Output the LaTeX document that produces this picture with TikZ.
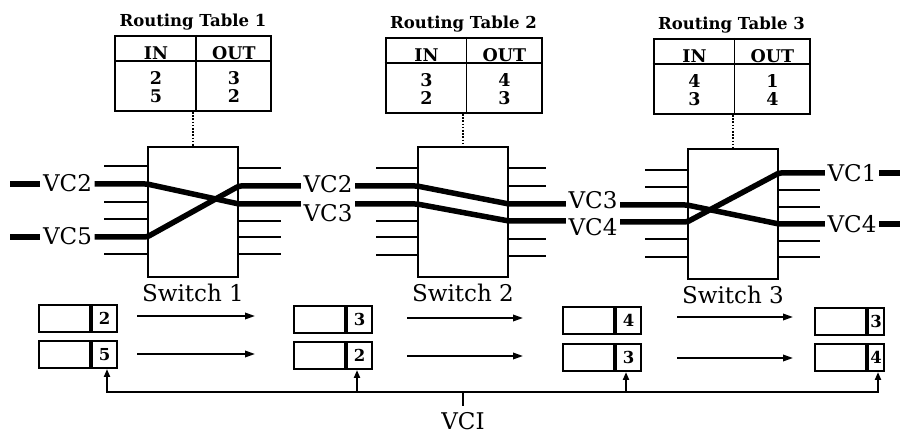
\documentclass[tikz,border=0pt]{standalone}
\usepackage{fontspec}
\setmainfont{DejaVu Serif}
\usetikzlibrary{arrows.meta}
\begin{document}
\begin{tikzpicture}[x=1pt,y=-1pt,
  stubln/.style={line width=1.6pt},
  vcln/.style={line width=5.5pt, line join=round, rounded corners=2pt},
  swbox/.style={draw, line width=2pt, minimum width=90pt, minimum height=130pt, inner sep=0pt},
  tblbox/.style={draw, line width=2pt, minimum width=156pt, minimum height=75pt, inner sep=0pt},
  tblln/.style={line width=1.6pt},
  dotln/.style={line width=1.6pt, dash pattern=on 1.6pt off 1.6pt},
  biglbl/.style={font=\fontsize{23}{26}\selectfont, inner sep=0pt},
  vclbl/.style={font=\fontsize{23}{26}\selectfont, inner ysep=0pt, inner xsep=2.5pt},
  ttl/.style={font=\bfseries\fontsize{16.5}{19}\selectfont, inner sep=0pt, anchor=base},
  tbltxt/.style={font=\bfseries\fontsize{17.5}{20}\selectfont, inner sep=0pt, anchor=base},
  cellbox/.style={draw, line width=2pt, minimum height=27pt, inner sep=0pt, anchor=north west},
  numtxt/.style={font=\bfseries\fontsize{16.5}{19}\selectfont},
  flowarr/.style={line width=1.8pt, -{Triangle[length=10pt,width=6.5pt]}},
  busln/.style={line width=2pt},
  bustip/.style={-{Triangle[length=8pt,width=6pt]}}
]
\useasboundingbox (0,0) rectangle (900,435);

% switches
\node[swbox] (s1) at (193,212) {};
\node[swbox] (s2) at (463,212.5) {};
\node[swbox] (s3) at (733,214) {};
\node[biglbl, anchor=base] (sl1) at (s1.south |- 0,302) {Switch 1};
\node[biglbl, anchor=base] (sl2) at (s2.south |- 0,302) {Switch 2};
\node[biglbl, anchor=base] (sl3) at (s3.south |- 0,304) {Switch 3};

% stubs
\foreach \y in {166,184,202,219,237,254} \draw[stubln] (s1.west |- 0,\y) -- ++(-43,0);
\foreach \y in {168,186,204,221,237,254} \draw[stubln] (s1.east |- 0,\y) -- ++(42,0);
\foreach \y in {168,186,203,221,237,255} \draw[stubln] (s2.west |- 0,\y) -- ++(-41,0);
\foreach \y in {168,186,204,221,239,256} \draw[stubln] (s2.east |- 0,\y) -- ++(37,0);
\foreach \y in {170,187,205,222,239,257} \draw[stubln] (s3.west |- 0,\y) -- ++(-42,0);
\foreach \y in {173,190,207,224,241,257} \draw[stubln] (s3.east |- 0,\y) -- ++(41,0);

% VC labels
\node[vclbl] (lA1) at (67.5,183) {VC2};
\node[vclbl] (lB1) at (67.5,236) {VC5};
\node[vclbl] (lB2) at (328,184) {VC2};
\node[vclbl] (lA2) at (328,213) {VC3};
\node[vclbl] (lB3) at (593,200) {VC3};
\node[vclbl] (lA3) at (593,227) {VC4};
\node[vclbl] (lA4) at (852,173) {VC1};
\node[vclbl] (lB4) at (852,224) {VC4};
\coordinate (inA) at (10,184);
\coordinate (inB) at (10,237);
\coordinate (outA) at (900,173);
\coordinate (outB) at (900,224);

% path A : VC2 -> VC3 -> VC4 -> VC1
\draw[vcln] (inA) -- (lA1.west |- inA);
\draw[vcln] (lA1.east |- 0,184) -- (s1.west |- 0,184) -- (s1.east |- 0,204) -- (lA2.west |- 0,204);
\draw[vcln] (lA2.east |- 0,204) -- (s2.west |- 0,204) -- (s2.east |- 0,221) -- (lA3.west |- 0,221);
\draw[vcln] (lA3.east |- 0,222) -- (s3.west |- 0,222) -- (s3.east |- 0,173) -- (lA4.west |- 0,173);
\draw[vcln] (lA4.east |- outA) -- (outA);
% path B : VC5 -> VC2 -> VC3 -> VC4
\draw[vcln] (inB) -- (lB1.west |- inB);
\draw[vcln] (lB1.east |- 0,237) -- (s1.west |- 0,237) -- (s1.east |- 0,186) -- (lB2.west |- 0,186);
\draw[vcln] (lB2.east |- 0,186) -- (s2.west |- 0,186) -- (s2.east |- 0,204) -- (lB3.west |- 0,204);
\draw[vcln] (lB3.east |- 0,205) -- (s3.west |- 0,205) -- (s3.east |- 0,224) -- (lB4.west |- 0,224);
\draw[vcln] (lB4.east |- outB) -- (outB);

% routing tables
\foreach \i/\cx/\ty/\a/\b/\c/\d in {1/193/36/2/3/5/2, 2/463.5/38/3/4/2/3, 3/731.5/39/4/1/3/4} {
  \node[tblbox] (t\i) at (\cx,{\ty+37.5}) {};
  \draw[tblln] ([yshift=-26pt]t\i.north west) -- ([yshift=-26pt]t\i.north east);
  \draw[tblln] ([xshift=82pt]t\i.north west) -- ([xshift=82pt]t\i.south west);
  \node[ttl] (tt\i) at (\cx,{\ty-9}) {Routing Table \i};
  \node[tbltxt] (tin\i) at ({\cx-37},{\ty+24}) {IN};
  \node[tbltxt] (tout\i) at ({\cx+41},{\ty+24}) {OUT};
  \node[tbltxt] (ta\i) at ({\cx-37},{\ty+49}) {\a};
  \node[tbltxt] (tb\i) at ({\cx+41},{\ty+49}) {\b};
  \node[tbltxt] (tc\i) at ({\cx-37},{\ty+67}) {\c};
  \node[tbltxt] (td\i) at ({\cx+41},{\ty+67}) {\d};
  \draw[dotln] (s\i.north |- t\i.south) -- (s\i.north);
}

% packets
\foreach \k/\L/\T/\wl/\wn/\n in {a1/38/304/51/25/2, a2/293/305/51/25/3, a3/562/306/51/25/4, a4/814/307/51/16/3,
                                 b1/38/340/51/25/5, b2/293/341/51/25/2, b3/562/343/51/25/3, b4/814/343/51/16/4} {
  \node[cellbox, minimum width=\wl pt] (p\k) at (\L,\T) {};
  \node[cellbox, minimum width=\wn pt, numtxt] (n\k) at (p\k.north east) {\n};
}

% flow arrows
\coordinate (f1s) at (137,316); \coordinate (f1e) at (255,316);
\coordinate (f2s) at (137,354); \coordinate (f2e) at (255,354);
\coordinate (f3s) at (407,318); \coordinate (f3e) at (523,318);
\coordinate (f4s) at (407,356); \coordinate (f4e) at (523,356);
\coordinate (f5s) at (677,317); \coordinate (f5e) at (793,317);
\coordinate (f6s) at (677,358); \coordinate (f6e) at (793,358);
\foreach \j in {1,...,6} \draw[flowarr] (f\j s) -- (f\j e);

% VCI bus
\node[biglbl, anchor=base] (vci) at (463,430) {VCI};
\coordinate (bl) at (107,392);
\coordinate (br) at (878,392);
\draw[busln, {Triangle[length=8pt,width=6pt]}-{Triangle[length=8pt,width=6pt]}]
  (nb1.south -| bl) -- (bl) -- (br) -- (nb4.south -| br);
\draw[busln, bustip] (357,392) -- (nb2.south -| 357,0);
\draw[busln, bustip] (626,392) -- (nb3.south -| 626,0);
\draw[busln] (vci.north |- 0,392) -- (vci.north |- 0,406);
\end{tikzpicture}
\end{document}
